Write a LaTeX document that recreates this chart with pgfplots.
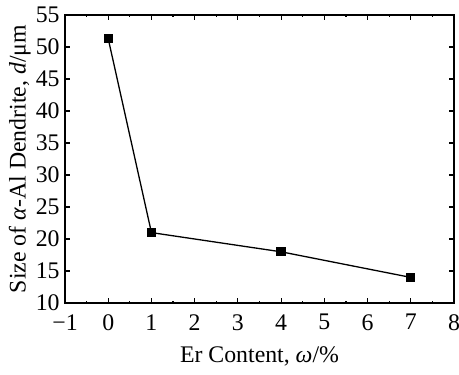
\documentclass[border=0pt]{standalone}
\usepackage{fontspec}
\setmainfont{Liberation Serif}
\usepackage{pgfplots}
\pgfplotsset{compat=1.18}
\begin{document}
\fontsize{11.9}{13.5}\selectfont
\begin{tikzpicture}
\begin{axis}[
  scale only axis,
  width=194.5pt, height=144pt,
  xmin=-1, xmax=8, ymin=10, ymax=55,
  xtick={-1,0,...,8},
  xticklabels={−1,0,1,2,3,4,5,6,7,8},
  ytick={10,15,...,55},
  minor x tick num=1,
  minor y tick num=0,
  tick align=inside,
  major tick length=2.5pt,
  minor tick length=1.2pt,
  tick style={black, line width=0.6pt},
  axis line style={line width=0.85pt},
  /pgf/number format/assume math mode=true,
  tick label style={font=\fontsize{11.9}{13.5}\selectfont},
  yticklabel style={inner sep=0pt, xshift=-2.5pt},
  xticklabel style={inner sep=0pt, yshift=-5.5pt},
  label style={font=\fontsize{11.9}{13.5}\selectfont},
  xlabel={Er Content, \textit{ω}/\%},
  ylabel={Size of \textit{α}-Al Dendrite, \textit{d}/μm},
  xlabel style={at={(axis description cs:0.5,0)}, anchor=north, inner sep=0pt, yshift=-21.5pt},
  ylabel style={at={(axis description cs:-0.116,0.5)}, anchor=center, inner sep=0pt},
]
\addplot[black, line width=0.65pt, mark=square*, mark size=2pt] coordinates {
  (0,51.3) (1,21) (4,18) (7,14)
};
\coordinate (bl) at (rel axis cs:0,0);
\coordinate (tr) at (rel axis cs:1,1);
\end{axis}
\pgfresetboundingbox
\path ([shift={(-32.5pt,-35.5pt)}]bl) rectangle ([shift={(2.5pt,7.5pt)}]tr);
\end{tikzpicture}
\end{document}
